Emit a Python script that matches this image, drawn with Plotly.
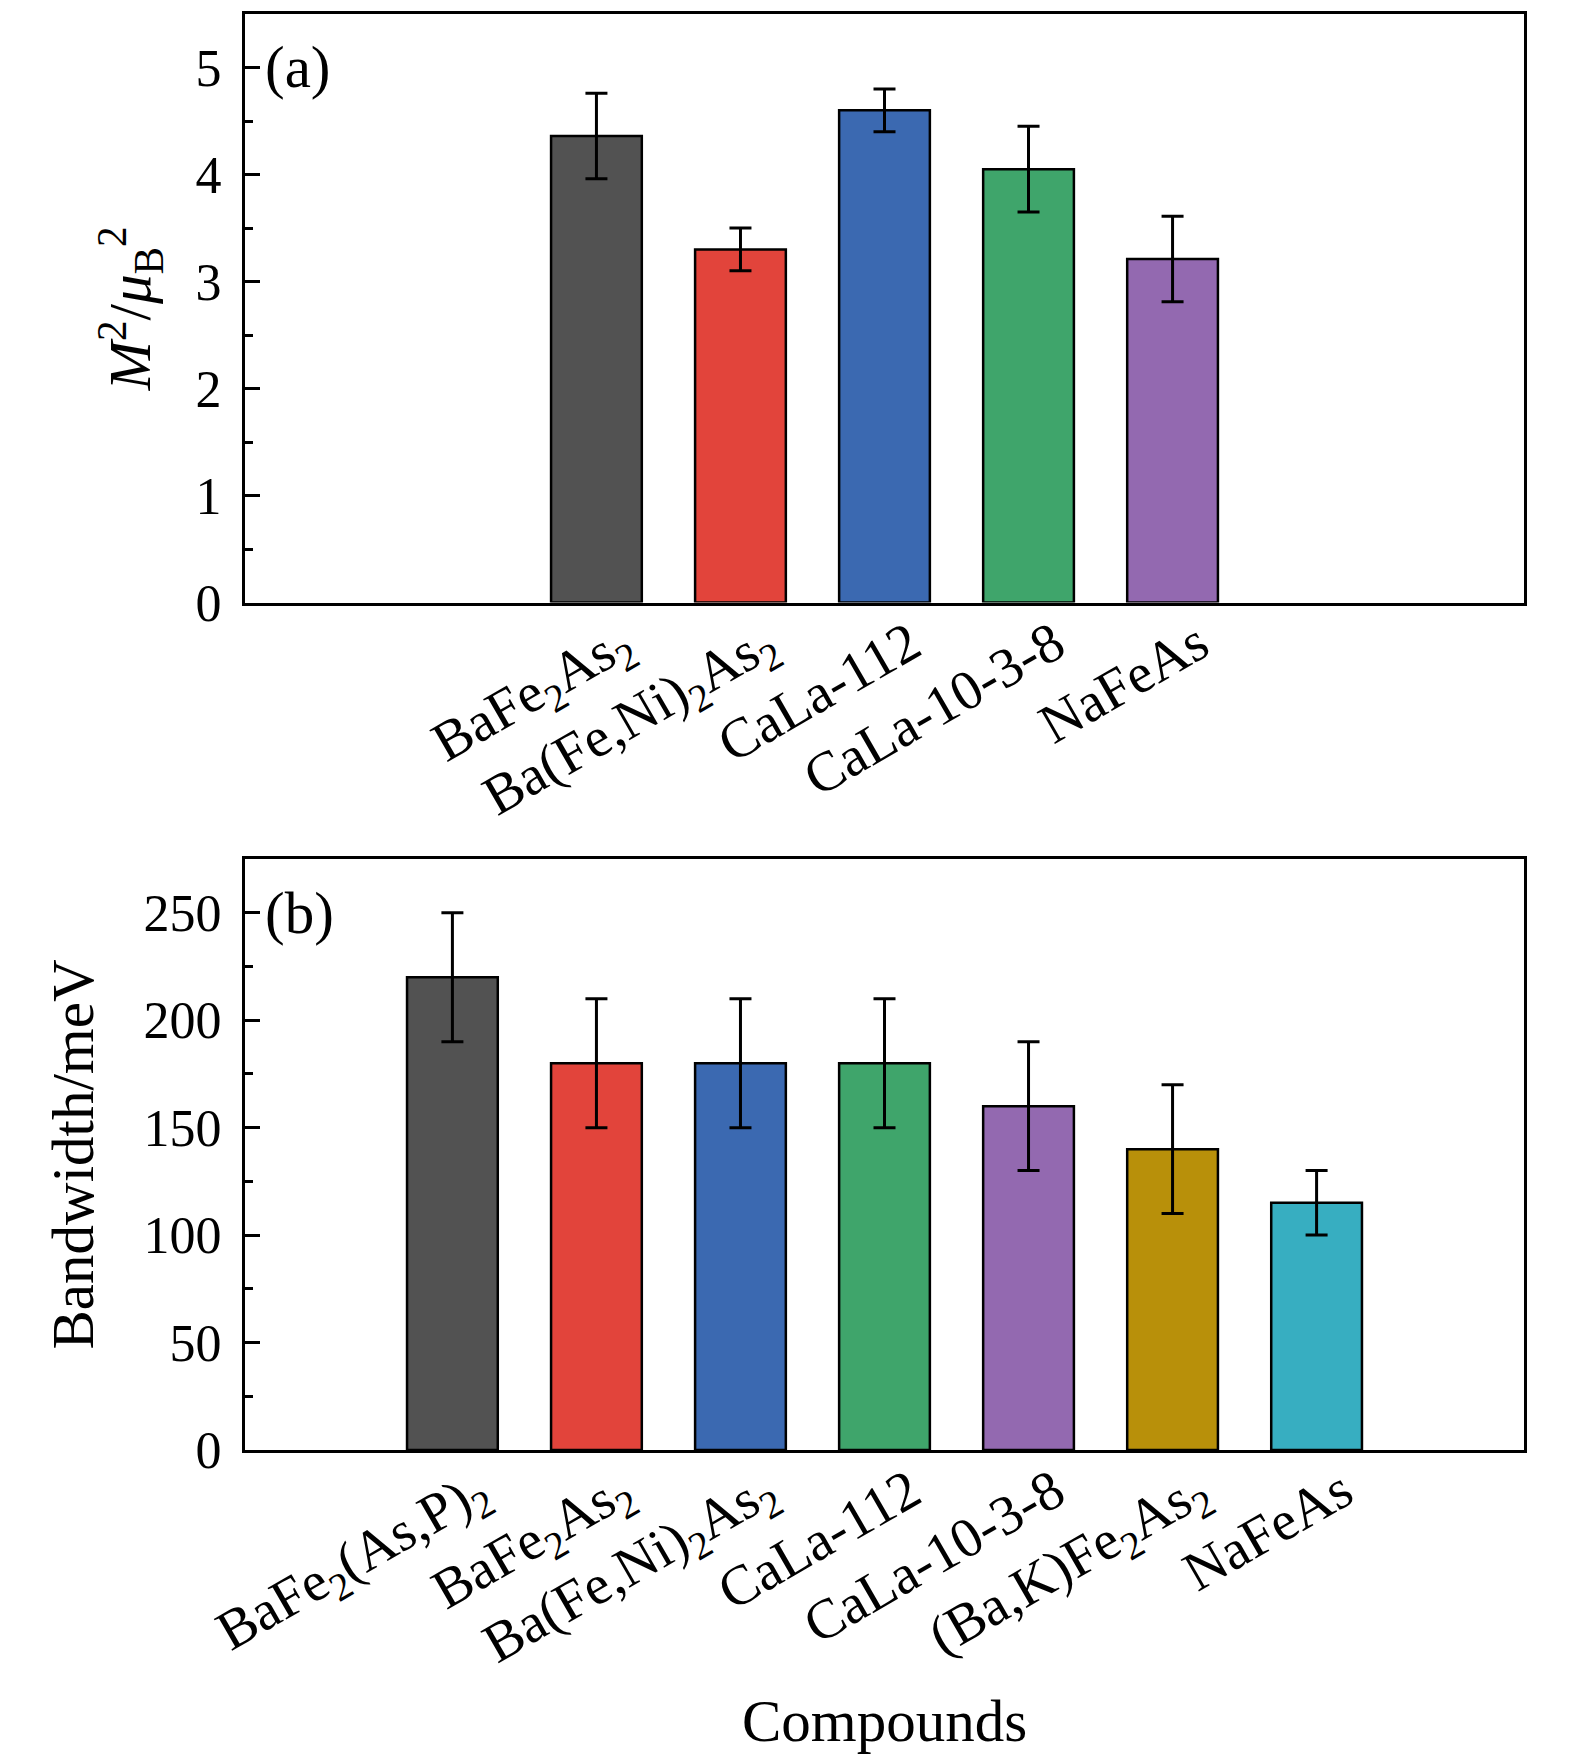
import plotly.graph_objects as go

# ---- data ----
labels_a = ["BaFe<sub>2</sub>As<sub>2</sub>", "Ba(Fe,Ni)<sub>2</sub>As<sub>2</sub>",
            "CaLa-112", "CaLa-10-3-8", "NaFeAs"]
pos_a = [1, 2, 3, 4, 5]
m2 = [4.36, 3.30, 4.60, 4.05, 3.21]
m2_err = [0.40, 0.20, 0.20, 0.40, 0.40]
colors_a = ["#525252", "#e2443b", "#3b69b1", "#3fa56b", "#9369b0"]

labels_b = ["BaFe<sub>2</sub>(As,P)<sub>2</sub>", "BaFe<sub>2</sub>As<sub>2</sub>",
            "Ba(Fe,Ni)<sub>2</sub>As<sub>2</sub>", "CaLa-112", "CaLa-10-3-8",
            "(Ba,K)Fe<sub>2</sub>As<sub>2</sub>", "NaFeAs"]
pos_b = [0, 1, 2, 3, 4, 5, 6]
bandwidth = [220, 180, 180, 180, 160, 140, 115]
bandwidth_err = [30, 30, 30, 30, 30, 30, 15]
colors_b = ["#525252", "#e2443b", "#3b69b1", "#3fa56b", "#9369b0", "#b8900a", "#37aec1"]

FONT = "Liberation Serif"
FS_TICK = 52
FS_XLAB = 56
FS_TITLE = 59
W, H = 1575, 1762
OFF = 7  # page body margin compensation
tick_shift = 0.18

fig = go.Figure()
fig.add_trace(go.Bar(
    x=pos_a, y=m2, width=0.63, xaxis="x", yaxis="y",
    marker=dict(color=colors_a, line=dict(color="black", width=2.5)),
    error_y=dict(type="data", array=m2_err, color="black", thickness=3, width=11),
    showlegend=False))
fig.add_trace(go.Bar(
    x=pos_b, y=bandwidth, width=0.63, xaxis="x2", yaxis="y2",
    marker=dict(color=colors_b, line=dict(color="black", width=2.5)),
    error_y=dict(type="data", array=bandwidth_err, color="black", thickness=3, width=11),
    showlegend=False))

xdom = [(244 - OFF) / W, (1523 - OFF) / W]
axis_common = dict(showline=True, linecolor="black", linewidth=3, mirror=True,
                   showgrid=False, zeroline=False, automargin=False)
xtickfont = dict(family=FONT, size=FS_XLAB, color="black")
ytickfont = dict(family=FONT, size=FS_TICK, color="black")
titlefont = dict(family=FONT, size=FS_TITLE, color="black")

fig.update_layout(
    width=W, height=H,
    margin=dict(l=0, r=0, t=0, b=0),
    paper_bgcolor="white", plot_bgcolor="white",
    font=dict(family=FONT, size=FS_TICK, color="black"),
    xaxis=dict(domain=xdom, anchor="y", range=[-1.44, 7.44],
               tickmode="array", tickvals=[p + tick_shift for p in pos_a],
               ticktext=labels_a, ticks="", tickangle=-30, tickfont=xtickfont,
               ticklabelstandoff=-16, **axis_common),
    yaxis=dict(domain=[1 - (601.5 - OFF) / H, 1 - (13 - OFF) / H], anchor="x", range=[0, 5.5],
               dtick=1, ticks="inside", ticklen=15, tickwidth=3, tickcolor="black",
               minor=dict(dtick=0.5, ticks="inside", ticklen=8, tickwidth=3, tickcolor="black"),
               tickfont=ytickfont, ticklabelstandoff=10,
               title=dict(text="<i>M</i><sup>2</sup>/<i>μ</i><sub>B</sub><sup>2</sup>",
                          font=titlefont, standoff=26),
               **axis_common),
    xaxis2=dict(domain=xdom, anchor="y2", range=[-1.44, 7.44],
                tickmode="array", tickvals=[p + tick_shift for p in pos_b],
                ticktext=labels_b, ticks="", tickangle=-30, tickfont=xtickfont,
                ticklabelstandoff=-16,
                title=dict(text="Compounds", font=titlefont, standoff=20),
                **axis_common),
    yaxis2=dict(domain=[1 - (1449 - OFF) / H, 1 - (858 - OFF) / H], anchor="x2", range=[0, 275],
                dtick=50, ticks="inside", ticklen=15, tickwidth=3, tickcolor="black",
                minor=dict(dtick=25, ticks="inside", ticklen=8, tickwidth=3, tickcolor="black"),
                tickfont=ytickfont, ticklabelstandoff=10,
                title=dict(text="Bandwidth/meV", font=titlefont, standoff=31),
                **axis_common),
    annotations=[
        dict(text="(a)", xref="paper", yref="y", x=(262 - OFF) / W, y=5, xanchor="left",
             yanchor="middle", showarrow=False, font=titlefont),
        dict(text="(b)", xref="paper", yref="y2", x=(262 - OFF) / W, y=250, xanchor="left",
             yanchor="middle", showarrow=False, font=titlefont),
    ],
)

fig.write_html("out.html")
